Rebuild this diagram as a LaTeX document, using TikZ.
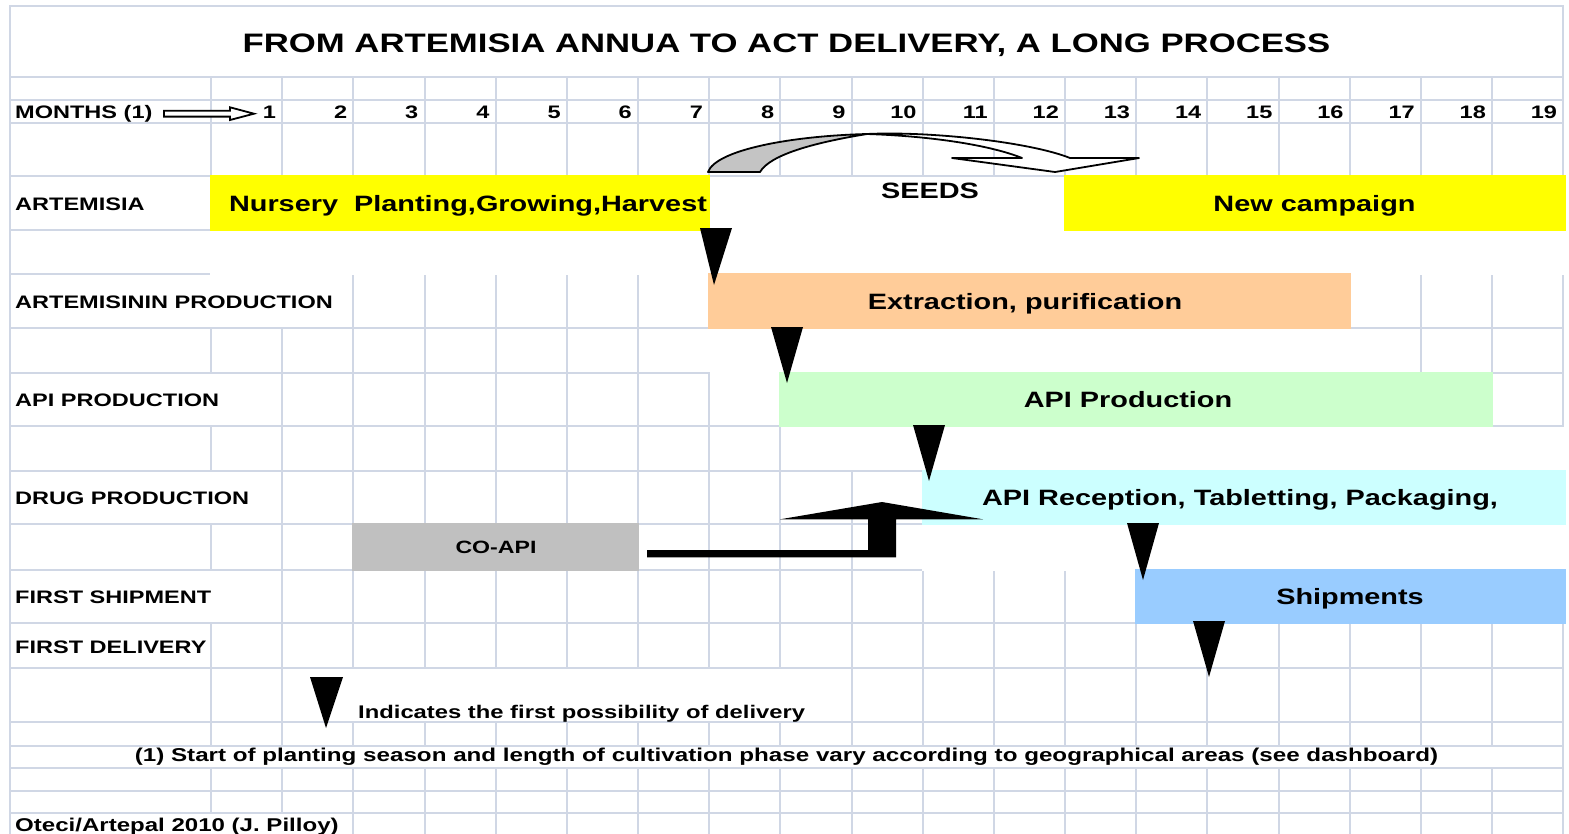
\documentclass[tikz,border=0pt]{standalone}
\usepackage{fontspec}
\setmainfont{Liberation Sans}[FakeStretch=1.3]
\definecolor{gridc}{HTML}{D0D7E5}
\definecolor{cyel}{HTML}{FFFF00}
\definecolor{corange}{HTML}{FFCC99}
\definecolor{cgreen}{HTML}{CCFFCC}
\definecolor{ccyan}{HTML}{CCFFFF}
\definecolor{cgray}{HTML}{C0C0C0}
\definecolor{cblue}{HTML}{99CCFF}
\definecolor{seedgray}{HTML}{C4C4C4}
\begin{document}
\begin{tikzpicture}[x=1pt,y=-1pt,
  gridline/.style={draw=gridc,line width=2,line cap=rect},
  erase/.style={fill=white},
  lab/.style={anchor=base west,inner sep=0,font=\fontsize{18.1}{20}\selectfont\bfseries},
  num/.style={anchor=base east,inner sep=0,font=\fontsize{18.1}{20}\selectfont\bfseries},
  bartext/.style={anchor=base,inner sep=0,font=\fontsize{22.2}{24}\selectfont\bfseries},
  smalltext/.style={inner sep=0,font=\fontsize{18.3}{20}\selectfont\bfseries},
  marker/.style={fill=black},
  blockarrow/.style={draw=black,line width=1.8,line join=round}]
\useasboundingbox (0,0) rectangle (1569,833);
\fill[white] (0,0) rectangle (1569,833);
% ---------- grid ----------
\foreach \y in {6,77,100,123,176,229.5,274.3,327.5,372.5,426,471,524,569.5,623,667.7,722,745.5,768,791,813}
  \draw[gridline] (10,\y) -- (1563.4,\y);
\foreach \i in {0,...,19}
  \draw[gridline] ({211+71.17*\i},77) -- ({211+71.17*\i},840);
\draw[gridline] (10,6) -- (10,840);
\draw[gridline] (1563.4,6) -- (1563.4,77);
% ---------- hidden grid parts ----------
\fill[erase] (210,228.5) rectangle (1566,275.3);
\fill[erase] (708.3,177) rectangle (1066.2,229);
\fill[erase] (11,275.3) rectangle (352,326.5);
\fill[erase] (708.3,326.5) rectangle (1350.9,371.5);
\fill[erase] (710.3,371.5) rectangle (780,373.5);
\fill[erase] (209,373.5) rectangle (213,425);
\fill[erase] (781.4,427) rectangle (1566,470);
\fill[erase] (209,472) rectangle (213,523);
\fill[erase] (921.8,525) rectangle (1566,570.5);
\fill[erase] (209,570.5) rectangle (213,622);
\fill[erase] (352,668.7) rectangle (850.6,721);
\fill[erase] (11,746.5) rectangle (1562.4,767);
\fill[erase] (11,814) rectangle (352,840);
% ---------- coloured bars ----------
\fill[cyel] (210,175) rectangle (710.3,230.5);
\fill[cyel] (1064.2,175) rectangle (1566,230.5);
\fill[corange] (708.3,273.3) rectangle (1350.9,328.5);
\fill[cgreen] (779.4,371.5) rectangle (1493.2,427);
\fill[ccyan] (921.8,470) rectangle (1566,525);
\fill[cgray] (352.4,523) rectangle (639.1,570.5);
\fill[cblue] (1135.3,568.5) rectangle (1566,624);
% ---------- texts ----------
\node[anchor=base,inner sep=0,font=\fontsize{26.7}{28}\selectfont\bfseries] (title) at (786.5,52) {FROM ARTEMISIA ANNUA TO ACT DELIVERY, A LONG PROCESS};
\node[lab] (lmonths) at (15,118.5) {MONTHS (1)};
\foreach \i in {1,...,19}
  \node[num] (m\i) at ({211+71.17*\i-6},118.5) {\i};
\node[lab] (lart) at (15,210.5) {ARTEMISIA};
\node[lab] (lartn) at (15,308) {ARTEMISININ PRODUCTION};
\node[lab] (lapi) at (15,406) {API PRODUCTION};
\node[lab] (ldrug) at (15,504) {DRUG PRODUCTION};
\node[lab] (lship) at (15,603) {FIRST SHIPMENT};
\node[lab] (ldeliv) at (15,653) {FIRST DELIVERY};
\node[bartext] (tnurs) at (468,211) {Nursery\ \ Planting,Growing,Harvest};
\node[bartext] (tseeds) at (930,198) {SEEDS};
\node[bartext] (tnew) at (1314.5,211) {New campaign};
\node[bartext] (text) at (1025,309) {Extraction, purification};
\node[bartext] (tapi) at (1128,407) {API Production};
\node[bartext] (trec) at (1240,505) {API Reception, Tabletting, Packaging,};
\node[bartext] (tship) at (1350,604) {Shipments};
\node[anchor=base,inner sep=0,font=\fontsize{17.8}{20}\selectfont\bfseries] (tco) at (496,553) {CO-API};
\node[smalltext,anchor=base west] (tind) at (358,718) {Indicates the first possibility of delivery};
\node[smalltext,anchor=base,font=\fontsize{18.6}{20}\selectfont\bfseries] (tfoot) at (786.5,761) {(1) Start of planting season and length of cultivation phase vary according to geographical areas (see dashboard)};
\node[smalltext,anchor=base west,font=\fontsize{18.5}{20}\selectfont\bfseries] (tcred) at (15,831.5) {Oteci/Artepal 2010 (J. Pilloy)};
% ---------- months arrow ----------
\draw[line width=1.8,fill=white,line join=miter] (164,110.8) -- (230,110.8) -- (230,107.3) -- (254,113.7) -- (230,120) -- (230,116.6) -- (164,116.6) -- cycle;
% ---------- seeds curved arrow ----------
\draw[blockarrow,fill=white] (867,134) .. controls (930,131) and (1030,142) .. (1070,158)
  -- (1139,158) -- (1055,172) -- (952,158) -- (1022,158)
  .. controls (990,145) and (930,136) .. (867,134) -- cycle;
\draw[blockarrow,fill=seedgray] (708,172) .. controls (716,150) and (790,136) .. (867,134)
  .. controls (812,143) and (770,155) .. (760,172) -- cycle;
% ---------- CO-API bent arrow ----------
\fill[black] (647,550) -- (868,550) -- (868,519.3) -- (780,519.3) -- (882,502) -- (983,519.3)
  -- (896,519.3) -- (896,557.3) -- (647,557.3) -- cycle;
% ---------- delivery markers ----------
\fill[marker] (700,228) -- (732,228) -- (714,285) -- cycle;
\fill[marker] (771,327) -- (803,327) -- (787,383) -- cycle;
\fill[marker] (913,425) -- (945,425) -- (929,481) -- cycle;
\fill[marker] (1127,523) -- (1159,523) -- (1143,580) -- cycle;
\fill[marker] (1193,621) -- (1225,621) -- (1209,677) -- cycle;
\fill[marker] (310,677) -- (343,677) -- (326,728) -- cycle;
\end{tikzpicture}
\end{document}
